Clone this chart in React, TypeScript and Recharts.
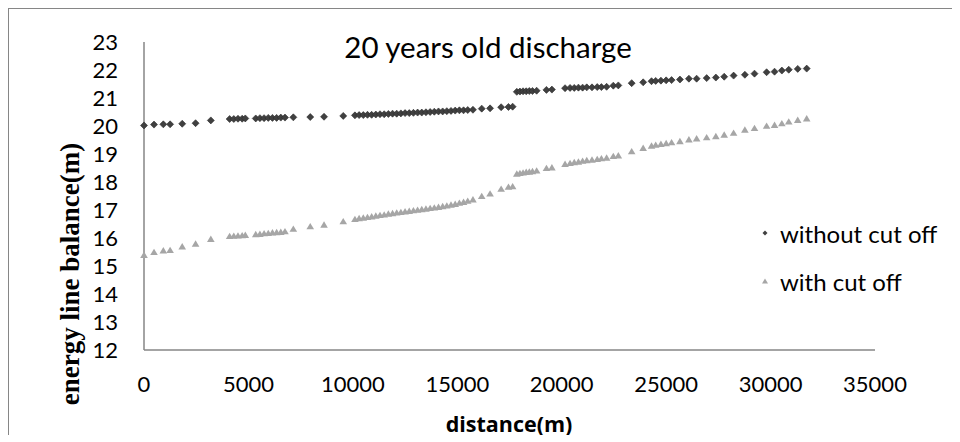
import React from "react";
import { ScatterChart, Scatter, XAxis, YAxis, Legend } from "recharts";

// distance along the reach (m), shared by both series
const distance = [
  0, 480, 925, 1250, 1830, 2470, 3200, 4100, 4300, 4500, 4700, 4850, 5350, 5550, 5750, 5950,
  6150, 6350, 6550, 6750, 7150, 7960, 8620, 9540, 10100, 10300, 10500, 10700, 10900, 11100,
  11300, 11500, 11700, 11900, 12100, 12300, 12500, 12700, 12900, 13100, 13300, 13500, 13700,
  13900, 14100, 14300, 14500, 14700, 14900, 15100, 15300, 15500, 15750, 16170, 16570, 17100,
  17450, 17650, 17850, 18000, 18150, 18300, 18450, 18600, 18800, 19270, 19530, 20160, 20400,
  20600, 20800, 21000, 21200, 21450, 21700, 21900, 22150, 22470, 22710, 23350, 23900, 24300,
  24500, 24750, 25000, 25260, 25660, 26090, 26460, 26940, 27380, 27780, 28230, 28770, 29230,
  29810, 30190, 30540, 30870, 31300, 31730,
];

const withoutCutOff = [
  20.02, 20.05, 20.06, 20.06, 20.08, 20.1, 20.2, 20.25, 20.25, 20.26, 20.26, 20.27, 20.27, 20.28,
  20.28, 20.29, 20.29, 20.29, 20.3, 20.3, 20.31, 20.32, 20.33, 20.36, 20.38, 20.39, 20.39, 20.4,
  20.4, 20.41, 20.42, 20.42, 20.43, 20.44, 20.44, 20.45, 20.46, 20.46, 20.47, 20.48, 20.48, 20.49,
  20.5, 20.51, 20.52, 20.52, 20.53, 20.54, 20.55, 20.56, 20.56, 20.57, 20.58, 20.62, 20.63, 20.67,
  20.68, 20.69, 21.22, 21.23, 21.24, 21.24, 21.25, 21.25, 21.26, 21.29, 21.3, 21.35, 21.36, 21.36,
  21.37, 21.37, 21.38, 21.38, 21.39, 21.39, 21.4, 21.44, 21.45, 21.53, 21.56, 21.6, 21.61, 21.62,
  21.63, 21.64, 21.66, 21.69, 21.69, 21.71, 21.73, 21.76, 21.8, 21.83, 21.87, 21.92, 21.94, 21.98,
  22.01, 22.04, 22.05,
];

const withCutOff = [
  15.39, 15.49, 15.55, 15.56, 15.69, 15.79, 15.96, 16.06, 16.07, 16.08, 16.09, 16.1, 16.13, 16.14,
  16.16, 16.17, 16.19, 16.2, 16.21, 16.23, 16.32, 16.41, 16.47, 16.59, 16.67, 16.7, 16.72, 16.74,
  16.76, 16.79, 16.81, 16.83, 16.86, 16.88, 16.9, 16.92, 16.94, 16.96, 16.98, 17.0, 17.02, 17.04,
  17.06, 17.08, 17.1, 17.13, 17.15, 17.18, 17.21, 17.25, 17.28, 17.32, 17.37, 17.49, 17.58, 17.75,
  17.82, 17.84, 18.29, 18.31, 18.33, 18.35, 18.36, 18.38, 18.4, 18.49, 18.51, 18.64, 18.67, 18.7,
  18.72, 18.75, 18.77, 18.79, 18.81, 18.84, 18.86, 18.92, 18.94, 19.09, 19.21, 19.29, 19.32, 19.35,
  19.38, 19.41, 19.45, 19.51, 19.55, 19.59, 19.63, 19.68, 19.75, 19.86, 19.92, 20.0, 20.03, 20.09,
  20.15, 20.21, 20.26,
];

const xTicks = [0, 5000, 10000, 15000, 20000, 25000, 30000, 35000];
const yTicks = [12, 13, 14, 15, 16, 17, 18, 19, 20, 21, 22, 23];
const seriesOrder = ["without cut off", "with cut off"];

const dataWithout = distance.map((d, i) => ({ x: d, y: withoutCutOff[i] }));
const dataWith = distance.map((d, i) => ({ x: d, y: withCutOff[i] }));

const FONT = "Lato, 'Open Sans', sans-serif";
const AXIS = "#868686";
const DARK = "#404040";
const LIGHT = "#a6a6a6";

const Diamond = (props: any) => {
  const { cx, cy } = props;
  const r = 3.5;
  return (
    <path
      d={`M${cx},${cy - r}L${cx + r},${cy}L${cx},${cy + r}L${cx - r},${cy}Z`}
      fill={DARK}
      stroke="#2a2a2a"
      strokeWidth={0.6}
    />
  );
};

const Triangle = (props: any) => {
  const { cx, cy } = props;
  const w = 3.8;
  return (
    <path
      d={`M${cx},${cy - 3.6}L${cx + w},${cy + 2.8}L${cx - w},${cy + 2.8}Z`}
      fill={LIGHT}
    />
  );
};

const renderLegend = (props: any) => {
  const items = [...(props.payload || [])].sort(
    (a: any, b: any) => seriesOrder.indexOf(a.value) - seriesOrder.indexOf(b.value)
  );
  return (
    <div style={{ fontFamily: FONT, fontSize: 24, color: "#000" }}>
      {items.map((entry: any) => (
        <div key={entry.value} style={{ display: "flex", alignItems: "center", height: 48 }}>
          <svg width={8} height={8} style={{ marginRight: 11 }}>
            {entry.value === "without cut off" ? (
              <path d="M4,1.5L6.5,4L4,6.5L1.5,4Z" fill={DARK} />
            ) : (
              <path d="M4,1.5L7,6.5L1,6.5Z" fill={LIGHT} />
            )}
          </svg>
          <span>{entry.value}</span>
        </div>
      ))}
    </div>
  );
};

export default function App() {
  return (
    <div
      style={{
        position: "relative",
        width: 944,
        height: 426,
        borderTop: `1px solid ${AXIS}`,
        borderLeft: `1px solid ${AXIS}`,
        background: "#fff",
      }}
    >
      <div
        style={{
          position: "absolute",
          left: 479,
          top: 23,
          transform: "translateX(-50%)",
          fontFamily: FONT,
          fontSize: 29.5,
          lineHeight: 1,
          whiteSpace: "nowrap",
          color: "#000",
        }}
      >
        20 years old discharge
      </div>
      <div
        style={{
          position: "absolute",
          left: 61,
          top: 265,
          transform: "translate(-50%, -50%) rotate(-90deg)",
          fontFamily: "'Liberation Serif', 'Times New Roman', serif",
          fontWeight: "bold",
          fontSize: 27,
          lineHeight: 1,
          whiteSpace: "nowrap",
          color: "#000",
        }}
      >
        energy line balance(m)
      </div>
      <div
        style={{
          position: "absolute",
          left: 500,
          top: 415,
          transform: "translate(-50%, -50%)",
          fontFamily: "'Open Sans', 'Noto Sans', sans-serif",
          fontWeight: 700,
          fontSize: 21.5,
          lineHeight: 1,
          whiteSpace: "nowrap",
          color: "#000",
        }}
      >
        distance(m)
      </div>
      <ScatterChart width={943} height={425} margin={{ top: 33, right: 77, bottom: 0, left: 0 }}>
        <XAxis
          type="number"
          dataKey="x"
          domain={[0, 35000]}
          ticks={xTicks}
          interval={0}
          height={84}
          axisLine={{ stroke: AXIS, strokeWidth: 1.5 }}
          tickLine={false}
          tickMargin={20}
          tick={{ fill: "#000", fontSize: 22, fontFamily: FONT }}
        />
        <YAxis
          type="number"
          dataKey="y"
          domain={[12, 23]}
          ticks={yTicks}
          interval={0}
          width={135}
          axisLine={{ stroke: AXIS, strokeWidth: 1.5 }}
          tickLine={false}
          tickMargin={20}
          tick={{ fill: "#000", fontSize: 22, fontFamily: FONT }}
        />
        <Legend
          layout="vertical"
          align="center"
          verticalAlign="middle"
          content={renderLegend}
          wrapperStyle={{ left: 752, top: 200, width: 200 }}
        />
        <Scatter
          name="without cut off"
          data={dataWithout}
          fill={DARK}
          shape={Diamond}
          isAnimationActive={false}
        />
        <Scatter
          name="with cut off"
          data={dataWith}
          fill={LIGHT}
          shape={Triangle}
          isAnimationActive={false}
        />
      </ScatterChart>
    </div>
  );
}
